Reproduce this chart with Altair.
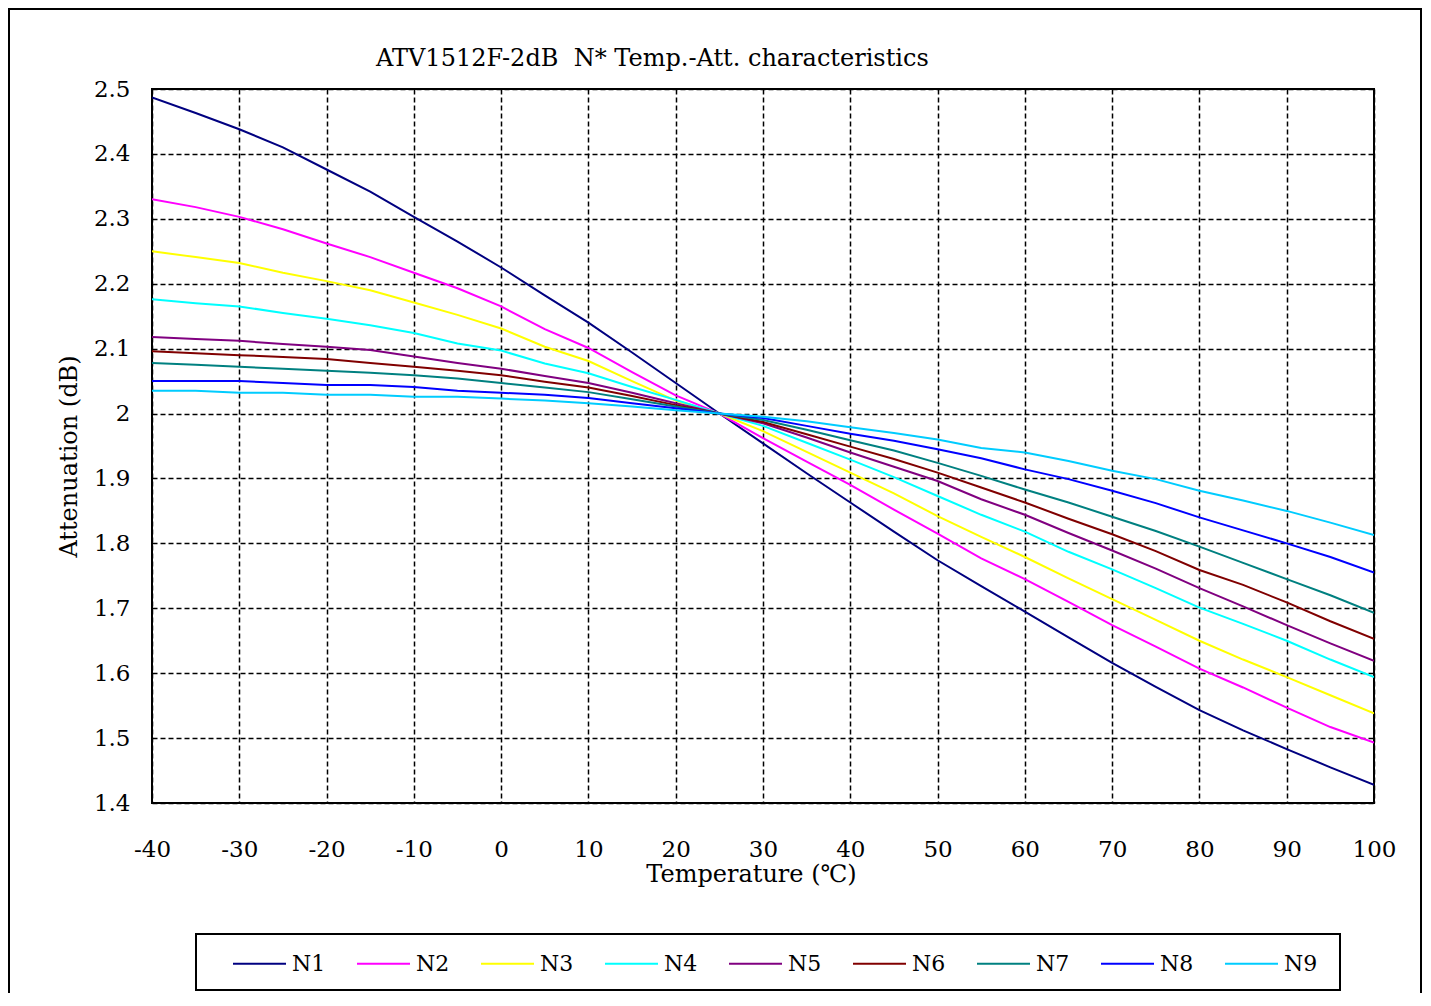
import altair as alt
import pandas as pd

temps = [-40, -35, -30, -25, -20, -15, -10, -5, 0, 5, 10, 15, 20, 25, 30, 35, 40,
         45, 50, 55, 60, 65, 70, 75, 80, 85, 90, 95, 100]

N1 = [2.487, 2.463, 2.438, 2.410, 2.376, 2.342, 2.303, 2.265, 2.225, 2.182, 2.140, 2.094, 2.047, 2.000,
      1.954, 1.908, 1.863, 1.818, 1.774, 1.734, 1.695, 1.655, 1.616, 1.579, 1.543, 1.512, 1.483, 1.455, 1.428]
N2 = [2.330, 2.318, 2.303, 2.284, 2.262, 2.241, 2.217, 2.193, 2.165, 2.130, 2.101, 2.064, 2.028, 2.000,
      1.962, 1.926, 1.890, 1.852, 1.815, 1.777, 1.745, 1.710, 1.674, 1.641, 1.607, 1.578, 1.547, 1.517, 1.493]
N3 = [2.250, 2.241, 2.232, 2.217, 2.204, 2.190, 2.171, 2.152, 2.131, 2.103, 2.081, 2.050, 2.020, 2.000,
      1.973, 1.941, 1.909, 1.877, 1.842, 1.810, 1.779, 1.746, 1.714, 1.682, 1.650, 1.621, 1.594, 1.566, 1.538]
N4 = [2.176, 2.170, 2.165, 2.155, 2.146, 2.136, 2.124, 2.108, 2.097, 2.077, 2.062, 2.041, 2.021, 2.000,
      1.981, 1.955, 1.929, 1.902, 1.873, 1.844, 1.818, 1.787, 1.760, 1.731, 1.701, 1.676, 1.650, 1.621, 1.594]
N5 = [2.118, 2.115, 2.112, 2.107, 2.103, 2.098, 2.088, 2.078, 2.069, 2.058, 2.047, 2.032, 2.016, 2.000,
      1.985, 1.963, 1.940, 1.918, 1.896, 1.868, 1.844, 1.816, 1.789, 1.761, 1.731, 1.703, 1.674, 1.646, 1.619]
N6 = [2.096, 2.093, 2.090, 2.087, 2.084, 2.078, 2.072, 2.066, 2.059, 2.049, 2.040, 2.027, 2.013, 2.000,
      1.987, 1.968, 1.949, 1.930, 1.909, 1.886, 1.863, 1.838, 1.814, 1.788, 1.759, 1.736, 1.709, 1.680, 1.653]
N7 = [2.078, 2.075, 2.072, 2.069, 2.066, 2.063, 2.059, 2.054, 2.047, 2.040, 2.033, 2.022, 2.011, 2.000,
      1.990, 1.975, 1.959, 1.943, 1.924, 1.904, 1.883, 1.863, 1.841, 1.819, 1.795, 1.770, 1.745, 1.720, 1.693]
N8 = [2.050, 2.050, 2.050, 2.047, 2.044, 2.044, 2.041, 2.035, 2.032, 2.029, 2.024, 2.016, 2.008, 2.000,
      1.993, 1.981, 1.969, 1.958, 1.945, 1.931, 1.914, 1.899, 1.881, 1.862, 1.840, 1.820, 1.800, 1.779, 1.755]
N9 = [2.035, 2.035, 2.032, 2.032, 2.029, 2.029, 2.026, 2.026, 2.023, 2.020, 2.016, 2.011, 2.005, 2.000,
      1.995, 1.988, 1.979, 1.970, 1.960, 1.947, 1.940, 1.927, 1.912, 1.899, 1.881, 1.866, 1.850, 1.832, 1.813]

series_names = ["N1", "N2", "N3", "N4", "N5", "N6", "N7", "N8", "N9"]
series_values = [N1, N2, N3, N4, N5, N6, N7, N8, N9]
series_colors = ["#000080", "#FF00FF", "#FFFF00", "#00FFFF", "#800080",
                 "#800000", "#008080", "#0000FF", "#00CCFF"]

x_ticks = [-40, -30, -20, -10, 0, 10, 20, 30, 40, 50, 60, 70, 80, 90, 100]
y_ticks = [1.4, 1.5, 1.6, 1.7, 1.8, 1.9, 2.0, 2.1, 2.2, 2.3, 2.4, 2.5]

# double space kept visible with a no-break space
title_text = "ATV1512F-2dB\u00a0 N* Temp.-Att. characteristics"

rows = []
for i, (name, vals) in enumerate(zip(series_names, series_values)):
    for t, v in zip(temps, vals):
        rows.append({"temp": t, "att": v, "series": name, "order": i})
df = pd.DataFrame(rows)

FONT = "DejaVu Serif"

lines = alt.Chart(df).mark_line(strokeWidth=2, clip=True).encode(
    x=alt.X("temp:Q",
            scale=alt.Scale(domain=[-40, 100], nice=False, zero=False),
            axis=alt.Axis(values=x_ticks, title="Temperature (℃)",
                          labelExpr="'' + datum.value", labelFlush=False,
                          ticks=False, tickSize=0, labelPadding=35,
                          titlePadding=1, titleX=599, domain=False)),
    y=alt.Y("att:Q",
            scale=alt.Scale(domain=[1.4, 2.5], nice=False, zero=False),
            axis=alt.Axis(values=y_ticks, title="Attenuation (dB)",
                          labelExpr="'' + round(datum.value * 10) / 10", labelFlush=False,
                          ticks=False, tickSize=0, labelPadding=22,
                          titlePadding=12, titleY=367, domain=False)),
    color=alt.Color("series:N",
                    scale=alt.Scale(domain=series_names, range=series_colors),
                    legend=alt.Legend(title=None, orient="none", legendX=80, legendY=847,
                                      direction="horizontal", columns=9,
                                      symbolType="stroke", symbolSize=2809,
                                      symbolStrokeWidth=2, labelOffset=5,
                                      columnPadding=27, padding=0,
                                      labelFont=FONT, labelFontSize=22,
                                      labelColor="black")),
    detail="series:N",
    order="order:Q",
)

frame_df = pd.DataFrame({"k": [0]})
outer = alt.Chart(frame_df).mark_rect(fill="transparent", stroke="black", strokeWidth=2).encode(
    x=alt.value(-143), x2=alt.value(1269), y=alt.value(-80), y2=alt.value(960))
legend_box = alt.Chart(frame_df).mark_rect(fill="transparent", stroke="black", strokeWidth=2).encode(
    x=alt.value(44), x2=alt.value(1188), y=alt.value(845), y2=alt.value(901))
title = alt.Chart(frame_df).mark_text(
    text=title_text, align="left", baseline="alphabetic",
    font=FONT, fontSize=24, color="black").encode(
    x=alt.value(224), y=alt.value(-23))

chart = alt.layer(outer, lines, legend_box, title).properties(
    width=1222, height=714,
    autosize=alt.AutoSizeParams(type="none"),
    padding={"left": 144, "top": 81, "right": 49, "bottom": 190},
    background="white",
).configure_view(stroke="black", strokeWidth=2).configure_axis(
    grid=True, gridColor="black", gridDash=[5, 3], gridWidth=1.5, gridOpacity=1,
    labelFont=FONT, labelFontSize=23, labelColor="black",
    titleFont=FONT, titleFontSize=24, titleFontWeight="normal", titleColor="black",
)

chart.save("out.html", embed_options={"renderer": "svg", "actions": False})
